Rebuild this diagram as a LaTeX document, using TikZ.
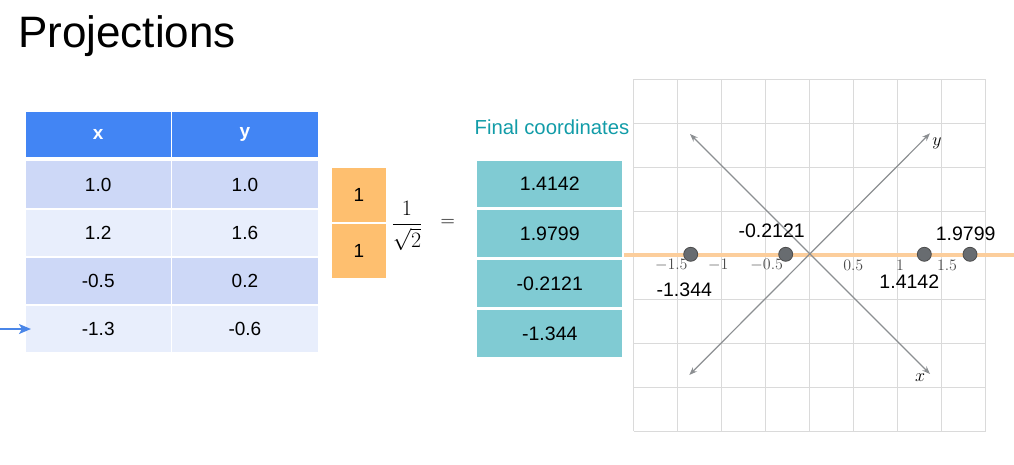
\documentclass[tikz,border=0pt]{standalone}
\usepackage{fix-cm}
\usepackage{xcolor}
\usepackage{amsmath,amssymb}
\usepackage{fontspec}
\usetikzlibrary{arrows.meta}
\newfontfamily\arialfont{Liberation Sans}

\definecolor{headblue}{RGB}{66,133,244}
\definecolor{rowdark}{RGB}{205,216,247}
\definecolor{rowlight}{RGB}{232,238,252}
\definecolor{vecorange}{RGB}{254,191,111}
\definecolor{finalteal}{RGB}{128,203,211}
\definecolor{titleteal}{RGB}{18,156,168}
\definecolor{lineorange}{RGB}{252,206,156}
\definecolor{gridgray}{RGB}{218,218,218}
\definecolor{axisgray}{RGB}{140,143,146}
\definecolor{dotgray}{RGB}{104,108,112}
\definecolor{arrowblue}{RGB}{74,134,232}

\begin{document}
\begin{tikzpicture}[x=1pt, y=-1pt,
  cell/.style={draw=white, line width=1.6pt, minimum width=146.9pt, minimum height=48.1pt, inner sep=0pt, font=\arialfont\fontsize{19}{22}\selectfont},
  headcell/.style={cell, fill=headblue, minimum height=46.6pt, text=white, font=\arialfont\bfseries\fontsize{19}{22}\selectfont},
  veccell/.style={draw=white, line width=1.7pt, minimum width=55.7pt, minimum height=55.7pt, inner sep=0pt, fill=vecorange, font=\arialfont\fontsize{19}{22}\selectfont},
  finalcell/.style={draw=white, line width=3pt, minimum width=148pt, minimum height=49.7pt, inner sep=0pt, fill=finalteal, font=\arialfont\fontsize{19.5}{22}\selectfont},
  numlabel/.style={inner sep=0pt, font=\arialfont\fontsize{19.5}{22}\selectfont},
  ticklabel/.style={inner sep=0pt, text=black!70, font=\fontsize{16}{19}\selectfont},
  dot/.style={circle, draw=black!70, line width=0.8pt, fill=dotgray, minimum size=14pt, inner sep=0pt},
  gridline/.style={draw=gridgray, line width=1pt},
  axis/.style={{Stealth[length=8pt, width=6pt]}-{Stealth[length=8pt, width=6pt]}, draw=axisgray, line width=1.2pt}]
\useasboundingbox (0,0) rectangle (1014,465);

% title
\node[anchor=base west, inner sep=0pt, font=\arialfont\fontsize{44}{50}\selectfont] (title) at (18,47.7) {Projections};

% data table
\node[headcell] (hx) at (98.2,134.8) {x};
\node[headcell] (hy) at (244.9,134.8) {y};
\node[cell, fill=rowdark] (x1) at (98.2,184.7) {1.0};
\node[cell, fill=rowdark] (y1) at (244.9,184.7) {1.0};
\node[cell, fill=rowlight] (x2) at (98.2,232.8) {1.2};
\node[cell, fill=rowlight] (y2) at (244.9,232.8) {1.6};
\node[cell, fill=rowdark] (x3) at (98.2,280.9) {-0.5};
\node[cell, fill=rowdark] (y3) at (244.9,280.9) {0.2};
\node[cell, fill=rowlight] (x4) at (98.2,329.0) {-1.3};
\node[cell, fill=rowlight] (y4) at (244.9,329.0) {-0.6};

\coordinate (pointer) at (0,329);
\draw[-{Stealth[length=12pt, width=10pt, inset=3pt]}, arrowblue, line width=1.4pt, shorten >=-7pt] (pointer) -- (x4.west);

% unit vector
\node[veccell] (u1) at (359,195.3) {1};
\node[veccell] (u2) at (359,250.8) {1};
\node[inner sep=0pt, font=\fontsize{18}{22}\selectfont] (scale) at (407,226) {\scalebox{1.22}{$\dfrac{1}{\sqrt{2}}$}};
\node[inner sep=0pt, font=\fontsize{18}{22}\selectfont] (equals) at (447.7,223.3) {\scalebox{1.1}{$=$}};

% final coordinates
\node[numlabel, text=titleteal, font=\arialfont\fontsize{20.3}{24}\selectfont] (finalhead) at (552,127) {Final coordinates};
\node[finalcell] (f1) at (549.8,184) {1.4142};
\node[finalcell] (f2) at (549.8,233.7) {1.9799};
\node[finalcell] (f3) at (549.8,283.5) {-0.2121};
\node[finalcell] (f4) at (549.8,333.3) {-1.344};

% grid
\foreach \k in {-4,...,4} {
  \draw[gridline] (809.7+44*\k,79.3) -- (809.7+44*\k,431.3);
  \draw[gridline] (633.7,255.3+44*\k) -- (985.7,255.3+44*\k);
}

% projection line
\coordinate (projl) at (624,255);
\coordinate (projr) at (1014,255);
\draw[lineorange, line width=3.5pt] (projl) -- (projr);

% rotated axes
\coordinate (xneg) at (690,134);
\coordinate (xpos) at (930,374);
\coordinate (yneg) at (689.3,375);
\coordinate (ypos) at (930,133.3);
\draw[axis] (xneg) -- (xpos);
\draw[axis] (yneg) -- (ypos);
\node[inner sep=0pt, font=\fontsize{18}{21}\selectfont] (ylab) at (937,143) {$y$};
\node[inner sep=0pt, font=\fontsize{18}{21}\selectfont] (xlab) at (920,378) {$x$};

% ticks
\node[ticklabel] (t1) at (671.3,265) {$-1.5$};
\node[ticklabel] (t2) at (718.3,265) {$-1$};
\node[ticklabel] (t3) at (766.7,265) {$-0.5$};
\node[ticklabel] (t4) at (853.3,265) {$0.5$};
\node[ticklabel] (t5) at (900,265) {$1$};
\node[ticklabel] (t6) at (947,265) {$1.5$};

% projected points
\node[dot] (p1) at (690.7,254.3) {};
\node[dot] (p2) at (785.7,254.3) {};
\node[dot] (p3) at (924.3,254.3) {};
\node[dot] (p4) at (970,254.3) {};
\node[numlabel] (l1) at (684.3,289.3) {-1.344};
\node[numlabel] (l2) at (771.7,231) {-0.2121};
\node[numlabel] (l3) at (909.3,282) {1.4142};
\node[numlabel] (l4) at (965.7,233.3) {1.9799};

\end{tikzpicture}
\end{document}
